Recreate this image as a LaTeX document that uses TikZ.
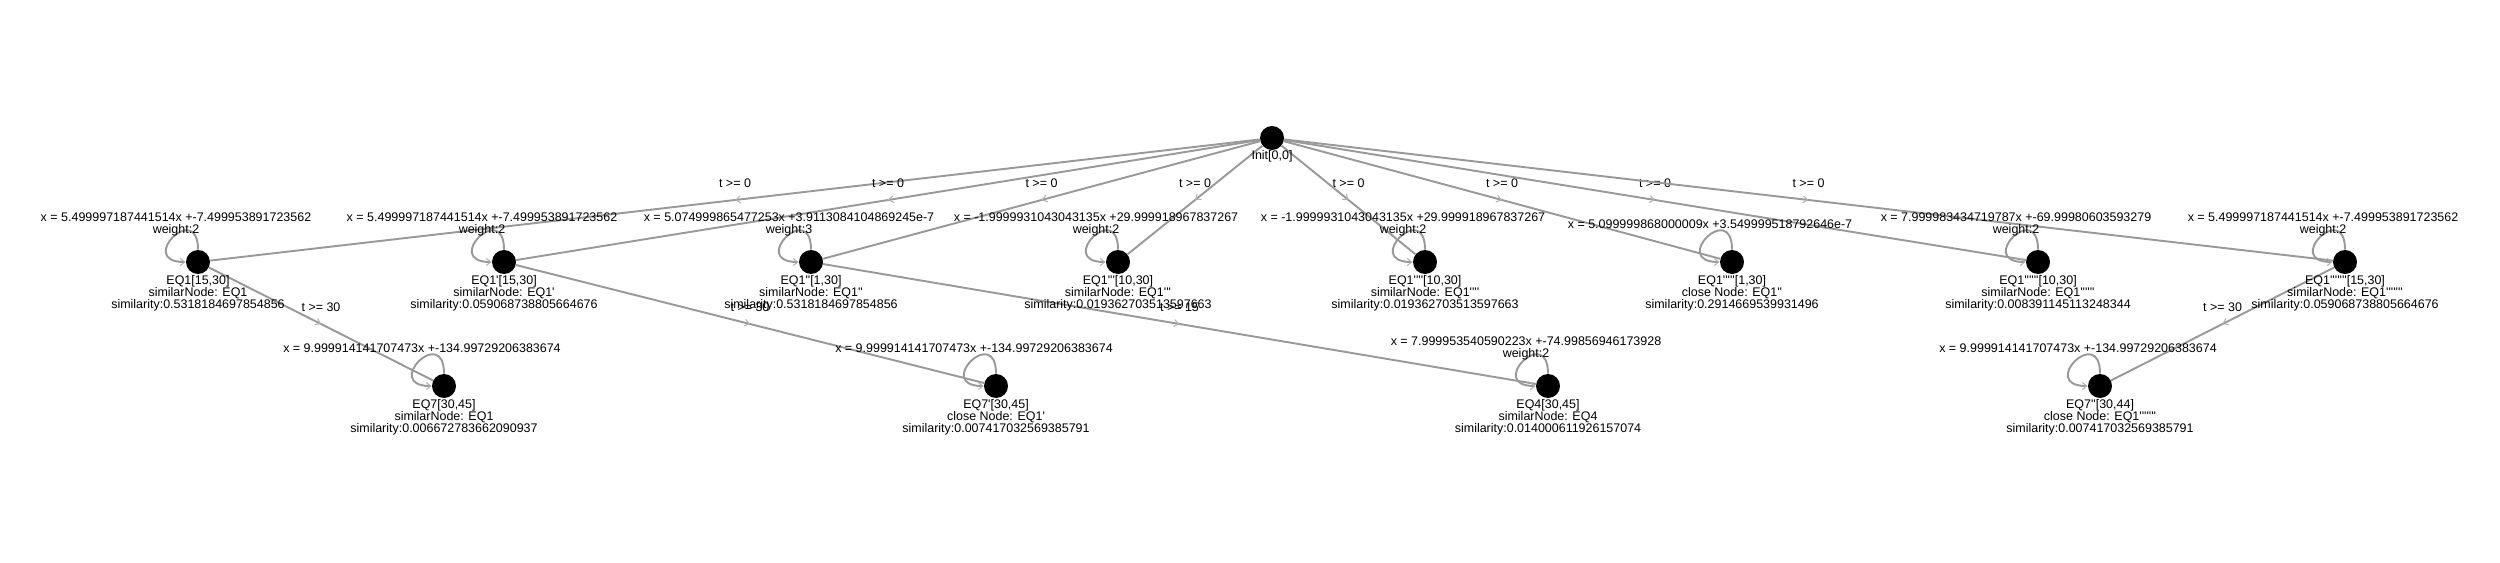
\documentclass[tikz,border=0pt]{standalone}
\usepackage{fontspec}
\setmainfont{Liberation Sans}[Ligatures=TeXOff]
\usepackage{tikz}
\usetikzlibrary{arrows.meta}
\usetikzlibrary{decorations.markings}

\begin{document}
\begin{tikzpicture}[
      x=0.02cm, y=0.02cm,
      dot/.style={circle,fill=black,inner sep=0pt,minimum size=0.48cm},
      tlabel/.style={font=\fontsize{7.1}{6.9}\selectfont,align=center,inner sep=0pt},
      info/.style={tlabel,yshift=-0.62cm},
      eqn/.style={tlabel,xshift=-0.44cm,yshift=0.75cm},
      guard/.style={tlabel,midway,yshift=0.33cm},
      trans/.style={draw=black!40,line width=1.1pt,postaction={decorate},
          decoration={markings,mark=at position 0.5 with
            {\arrow{Straight Barb[length=2.6pt,width=4pt,color=black!30,line width=0.6pt]}}}},
      selfloop/.style={draw=black!40,line width=1.1pt,
          -{Straight Barb[length=2.6pt,width=4pt,color=black!30,line width=0.6pt]}},
    ]
    \useasboundingbox (0,0) rectangle (2500,562);

    % states
    \node[dot] (init) at (1272,424) {};
    \node[dot] (eq1) at (198,300) {};
    \node[dot] (eq1i) at (504,300) {};
    \node[dot] (eq1ii) at (811,300) {};
    \node[dot] (eq1iii) at (1118,300) {};
    \node[dot] (eq1iv) at (1425,300) {};
    \node[dot] (eq1v) at (1732,300) {};
    \node[dot] (eq1vi) at (2038,300) {};
    \node[dot] (eq1vii) at (2345,300) {};
    \node[dot] (eq7) at (444,176) {};
    \node[dot] (eq7i) at (996,176) {};
    \node[dot] (eq4) at (1548,176) {};
    \node[dot] (eq7ii) at (2100,176) {};

    % transitions
    \foreach \n in {eq1,eq1i,eq1ii,eq1iii,eq1iv,eq1v,eq1vi,eq1vii}
        \draw[trans] (init) -- (\n) node[guard] {t >= 0};
    \draw[trans] (eq1) -- (eq7) node[guard] {t >= 30};
    \draw[trans] (eq1i) -- (eq7i) node[guard] {t >= 30};
    \draw[trans] (eq1ii) -- (eq4) node[guard] {t >= 15};
    \draw[trans] (eq1vii) -- (eq7ii) node[guard] {t >= 30};

    % flows
    \foreach \n in {eq1,eq1i,eq1ii,eq1iii,eq1iv,eq1v,eq1vi,eq1vii,eq7,eq7i,eq4,eq7ii}
        \draw[selfloop] (\n.90) .. controls +(90:50) and +(180:50) .. (\n.180);

    % texts
    \node[tlabel,yshift=-0.36cm] (init-info) at (init) {Init[0,0]};

    \node[eqn] (eq1-eqn) at (eq1) {x = 5.499997187441514x +-7.499953891723562\\weight:2};
    \node[info] (eq1-info) at (eq1) {EQ1[15,30]\\similarNode: EQ1\\similarity:0.5318184697854856};

    \node[eqn] (eq1i-eqn) at (eq1i) {x = 5.499997187441514x +-7.499953891723562\\weight:2};
    \node[info] (eq1i-info) at (eq1i) {EQ1'[15,30]\\similarNode: EQ1'\\similarity:0.059068738805664676};

    \node[eqn] (eq1ii-eqn) at (eq1ii) {x = 5.074999865477253x +3.9113084104869245e-7\\weight:3};
    \node[info] (eq1ii-info) at (eq1ii) {EQ1''[1,30]\\similarNode: EQ1''\\similarity:0.5318184697854856};

    \node[eqn] (eq1iii-eqn) at (eq1iii) {x = -1.9999931043043135x +29.999918967837267\\weight:2};
    \node[info] (eq1iii-info) at (eq1iii) {EQ1'''[10,30]\\similarNode: EQ1'''\\similarity:0.019362703513597663};

    \node[eqn] (eq1iv-eqn) at (eq1iv) {x = -1.9999931043043135x +29.999918967837267\\weight:2};
    \node[info] (eq1iv-info) at (eq1iv) {EQ1''''[10,30]\\similarNode: EQ1''''\\similarity:0.019362703513597663};

    \node[eqn] (eq1v-eqn) at (eq1v) {x = 5.099999868000009x +3.549999518792646e-7};
    \node[info] (eq1v-info) at (eq1v) {EQ1'''''[1,30]\\close Node: EQ1''\\similarity:0.2914669539931496};

    \node[eqn] (eq1vi-eqn) at (eq1vi) {x = 7.999983434719787x +-69.99980603593279\\weight:2};
    \node[info] (eq1vi-info) at (eq1vi) {EQ1''''''[10,30]\\similarNode: EQ1''''''\\similarity:0.008391145113248344};

    \node[eqn] (eq1vii-eqn) at (eq1vii) {x = 5.499997187441514x +-7.499953891723562\\weight:2};
    \node[info] (eq1vii-info) at (eq1vii) {EQ1'''''''[15,30]\\similarNode: EQ1'''''''\\similarity:0.059068738805664676};

    \node[eqn] (eq7-eqn) at (eq7) {x = 9.999914141707473x +-134.99729206383674};
    \node[info] (eq7-info) at (eq7) {EQ7[30,45]\\similarNode: EQ1\\similarity:0.006672783662090937};

    \node[eqn] (eq7i-eqn) at (eq7i) {x = 9.999914141707473x +-134.99729206383674};
    \node[info] (eq7i-info) at (eq7i) {EQ7'[30,45]\\close Node: EQ1'\\similarity:0.007417032569385791};

    \node[eqn] (eq4-eqn) at (eq4) {x = 7.999953540590223x +-74.99856946173928\\weight:2};
    \node[info] (eq4-info) at (eq4) {EQ4[30,45]\\similarNode: EQ4\\similarity:0.014000611926157074};

    \node[eqn] (eq7ii-eqn) at (eq7ii) {x = 9.999914141707473x +-134.99729206383674};
    \node[info] (eq7ii-info) at (eq7ii) {EQ7''[30,44]\\close Node: EQ1'''''''\\similarity:0.007417032569385791};
\end{tikzpicture}
\end{document}
